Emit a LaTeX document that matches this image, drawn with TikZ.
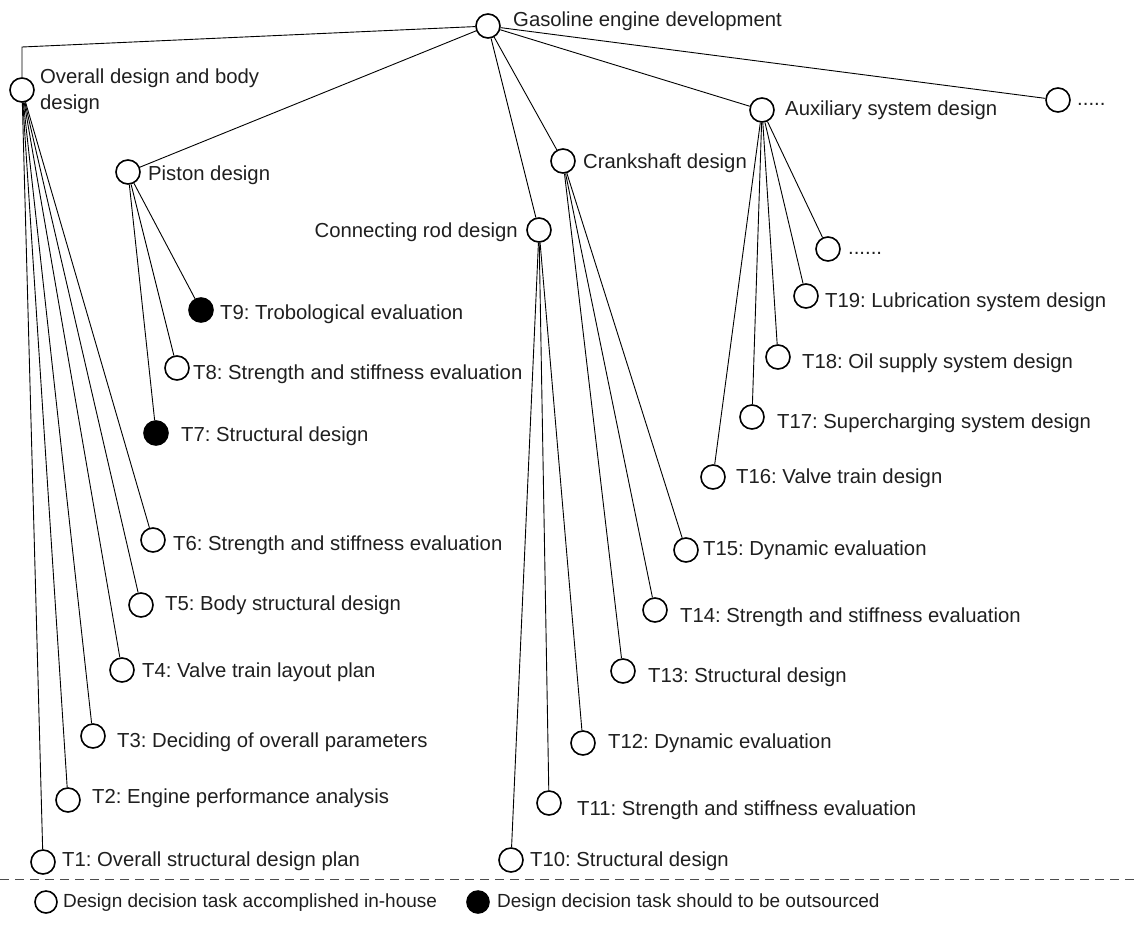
\documentclass[tikz,border=0pt]{standalone}
\usepackage{fontspec}
\setmainfont{Liberation Sans}
\frenchspacing
\begin{document}
\begin{tikzpicture}[x=1pt,y=-1pt,
  task/.style={circle,draw=black,line width=1.6pt,fill=white,minimum size=24pt,inner sep=0pt},
  outs/.style={task,fill=black},
  lab/.style={anchor=west,inner sep=0pt,text=black!88,font=\fontsize{20.3}{26}\selectfont},
  labr/.style={lab,anchor=east},
  leg/.style={lab,font=\fontsize{19}{24}\selectfont},
  conn/.style={draw=black,line width=0.9pt}]
\useasboundingbox (0,0) rectangle (1137,940);
% main nodes
\node[task] (root) at (488,26) {};
\node[lab] (lroot) at (513,21) {Gasoline engine development};
\node[task] (ov) at (22,90) {};
\node[lab,align=left] (lov) at (40,91) {Overall design and body\\design};
\node[task] (pis) at (128,172) {};
\node[lab] (lpis) at (148,175) {Piston design};
\node[task] (con) at (539,230) {};
\node[labr] (lcon) at (518,232) {Connecting rod design};
\node[task] (cra) at (563,161) {};
\node[lab] (lcra) at (583,163) {Crankshaft design};
\node[task] (aux) at (762,110) {};
\node[lab] (laux) at (785,110) {Auxiliary system design};
\node[task] (d1) at (1058,100) {};
\node[lab] (ld1) at (1077,104) {.....};
% overall children
\node[task] (t1) at (43,862) {};
\node[lab] (lt1) at (62,861) {T1: Overall structural design plan};
\node[task] (t2) at (68,800) {};
\node[lab] (lt2) at (92,798) {T2: Engine performance analysis};
\node[task] (t3) at (93,736) {};
\node[lab] (lt3) at (117,742) {T3: Deciding of overall parameters};
\node[task] (t4) at (122,670) {};
\node[lab] (lt4) at (142,672) {T4: Valve train layout plan};
\node[task] (t5) at (141,605) {};
\node[lab] (lt5) at (165,605) {T5: Body structural design};
\node[task] (t6) at (153,540) {};
\node[lab] (lt6) at (173,545) {T6: Strength and stiffness evaluation};
% piston children
\node[outs] (t7) at (156,433) {};
\node[lab] (lt7) at (181,436) {T7: Structural design};
\node[task] (t8) at (177,368) {};
\node[lab] (lt8) at (193,374) {T8: Strength and stiffness evaluation};
\node[outs] (t9) at (201,310) {};
\node[lab] (lt9) at (220,314) {T9: Trobological evaluation};
% conrod children
\node[task] (t10) at (511,860) {};
\node[lab] (lt10) at (530,861) {T10: Structural design};
\node[task] (t11) at (549,803) {};
\node[lab] (lt11) at (577,810) {T11: Strength and stiffness evaluation};
\node[task] (t12) at (583,743) {};
\node[lab] (lt12) at (608,743) {T12: Dynamic evaluation};
% crank children
\node[task] (t13) at (623,671) {};
\node[lab] (lt13) at (648,677) {T13: Structural design};
\node[task] (t14) at (655,610) {};
\node[lab] (lt14) at (680,617) {T14: Strength and stiffness evaluation};
\node[task] (t15) at (686,550) {};
\node[lab] (lt15) at (703,550) {T15: Dynamic evaluation};
% aux children
\node[task] (t16) at (713,477) {};
\node[lab] (lt16) at (736,478) {T16: Valve train design};
\node[task] (t17) at (752,417) {};
\node[lab] (lt17) at (777,423) {T17: Supercharging system design};
\node[task] (t18) at (778,357) {};
\node[lab] (lt18) at (802,363) {T18: Oil supply system design};
\node[task] (t19) at (806,296) {};
\node[lab] (lt19) at (825,302) {T19: Lubrication system design};
\node[task] (d2) at (828,249) {};
\node[lab] (ld2) at (848,253) {......};
% connectors
\coordinate (corner) at (22,47);
\draw[conn] (root) -- (corner) -- (ov);
\foreach \c in {pis,con,cra,aux,d1} \draw[conn] (root) -- (\c);
\foreach \c in {t1,t2,t3,t4,t5,t6} \draw[conn] (ov) -- (\c);
\foreach \c in {t7,t8,t9} \draw[conn] (pis) -- (\c);
\foreach \c in {t10,t11,t12} \draw[conn] (con) -- (\c);
\foreach \c in {t13,t14,t15} \draw[conn] (cra) -- (\c);
\foreach \c in {t16,t17,t18,t19,d2} \draw[conn] (aux) -- (\c);
% legend
\coordinate (dl) at (0,879);
\coordinate (dr) at (1137,879);
\draw[draw=black!70,line width=0.9pt,dash pattern=on 9pt off 6pt] (dl) -- (dr);
\node[task,minimum size=22pt] (lg1) at (46,902) {};
\node[leg] (llg1) at (63,903) {Design decision task accomplished in-house};
\node[outs,minimum size=22pt] (lg2) at (478,902) {};
\node[leg] (llg2) at (497,903) {Design decision task should to be outsourced};
\end{tikzpicture}
\end{document}
